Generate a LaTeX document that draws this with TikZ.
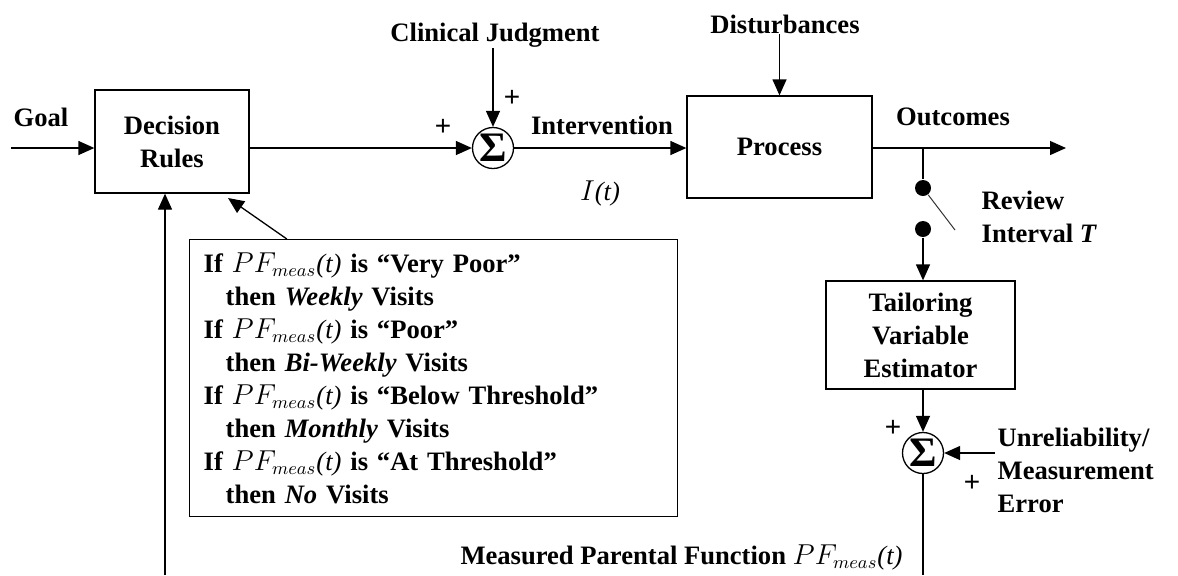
\documentclass[tikz,border=0pt]{standalone}
\usepackage{fontspec}
\setmainfont{Liberation Serif}
\setsansfont{Liberation Sans}
\usetikzlibrary{arrows.meta,calc}
\newcommand{\PFmeas}{$PF_{meas}${\mdseries\itshape (t)}}

\begin{document}
\begin{tikzpicture}[x=0.5pt,y=-0.5pt,
    font=\bfseries\fontsize{13.3}{16.5}\selectfont,
    >={Triangle[length=8pt,width=7pt]},
    line width=0.65pt,
    block/.style={draw, align=center, inner sep=0pt},
    sumnode/.style={draw, circle, minimum size=20.5pt, inner sep=0pt, font=\bfseries\fontsize{21}{21}\selectfont},
    lbl/.style={inner sep=0pt, align=left},
    sgn/.style={inner sep=0pt, font=\sffamily\fontsize{14}{14}\selectfont},
    dot/.style={circle, fill, minimum size=8pt, inner sep=0pt}]
  \useasboundingbox (0,0) rectangle (1178,575);

  % blocks
  \node[block, minimum width=77pt, minimum height=51.5pt] (dec) at (172,141.5) {Decision\\Rules};
  \node[block, minimum width=92.5pt, minimum height=51pt] (proc) at (779.5,147) {Process};
  \node[block, minimum width=94.5pt, minimum height=54pt] (tail) at (920.5,335) {Tailoring\\Variable\\Estimator};
  \node[draw, text width=230pt, inner xsep=7pt, inner ysep=0pt, minimum height=138.5pt, align=left, anchor=north west] (rules) at (189,239)
    {If \PFmeas{} is “Very Poor”\\
     \hspace*{11pt}then \textit{Weekly} Visits\\
     If \PFmeas{} is “Poor”\\
     \hspace*{11pt}then \textit{Bi-Weekly} Visits\\
     If \PFmeas{} is “Below Threshold”\\
     \hspace*{11pt}then \textit{Monthly} Visits\\
     If \PFmeas{} is “At Threshold”\\
     \hspace*{11pt}then \textit{No} Visits};

  % summing junctions
  \node[sumnode] (sum1) at (493,148) {Σ};
  \node[sumnode] (sum2) at (923,453) {Σ};

  % labels
  \node[lbl] (goal) at (41,117) {Goal};
  \node[lbl] (clin) at (495,35) {Clinical Judgment};
  \node[lbl] (interv) at (602,125) {Intervention};
  \node[lbl, font=\mdseries\fontsize{13.3}{16.5}\selectfont] (it) at (600,193) {$I$\textit{(t)}};
  \node[lbl] (dist) at (785,24) {Disturbances};
  \node[lbl] (outc) at (953,117) {Outcomes};
  \node[lbl, anchor=west] (review) at (981,216.5) {Review\\Interval \textit{T}};
  \node[lbl, anchor=west] (unrel) at (997,470) {Unreliability/\\Measurement\\Error};
  \node[lbl] (meas) at (681.5,557) {Measured Parental Function \PFmeas};

  \node[sgn] (p1) at (443,127) {+};
  \node[sgn] (p2) at (512,98) {+};
  \node[sgn] (p3) at (893,428) {+};
  \node[sgn] (p4) at (972,483) {+};

  % switch
  \node[dot] (sw1) at (923,188) {};
  \node[dot] (sw2) at (923,229) {};

  \coordinate (goalin) at (11,148);
  \coordinate (outend) at (1066,148);
  \coordinate (branch) at (923,148);
  \coordinate (swend) at (955,230);
  \coordinate (errin) at (995,453);
  \coordinate (fbbot) at (923,575);
  \coordinate (fbup) at (165,575);
  \coordinate (rulestip) at (228,198);
  \coordinate (rulesfrom) at ($(rules.north west)!0.2!(rules.north east)$);

  % connectors
  \draw[->] (goalin) -- (goalin -| dec.west);
  \draw[->] (dec.east |- sum1) -- (sum1);
  \draw[->] (sum1 |- clin.south) -- (sum1);
  \draw[->] (sum1) -- (sum1 -| proc.west);
  \draw[->] (proc.north |- dist.south) -- (proc.north);
  \draw[->] (proc.east |- outend) -- (outend);
  \draw (branch) -- (sw1);
  \draw[line width=0.5pt, gray!40!black] (sw1) -- (swend);
  \draw[->] (sw2) -- (sw2 |- tail.north);
  \draw[->] (sw2 |- tail.south) -- (sum2);
  \draw[->] (errin) -- (sum2);
  \draw (sum2) -- (fbbot);
  \draw[->] (fbup) -- (fbup |- dec.south);
  \draw[->] (rulesfrom) -- (rulestip);
\end{tikzpicture}
\end{document}
